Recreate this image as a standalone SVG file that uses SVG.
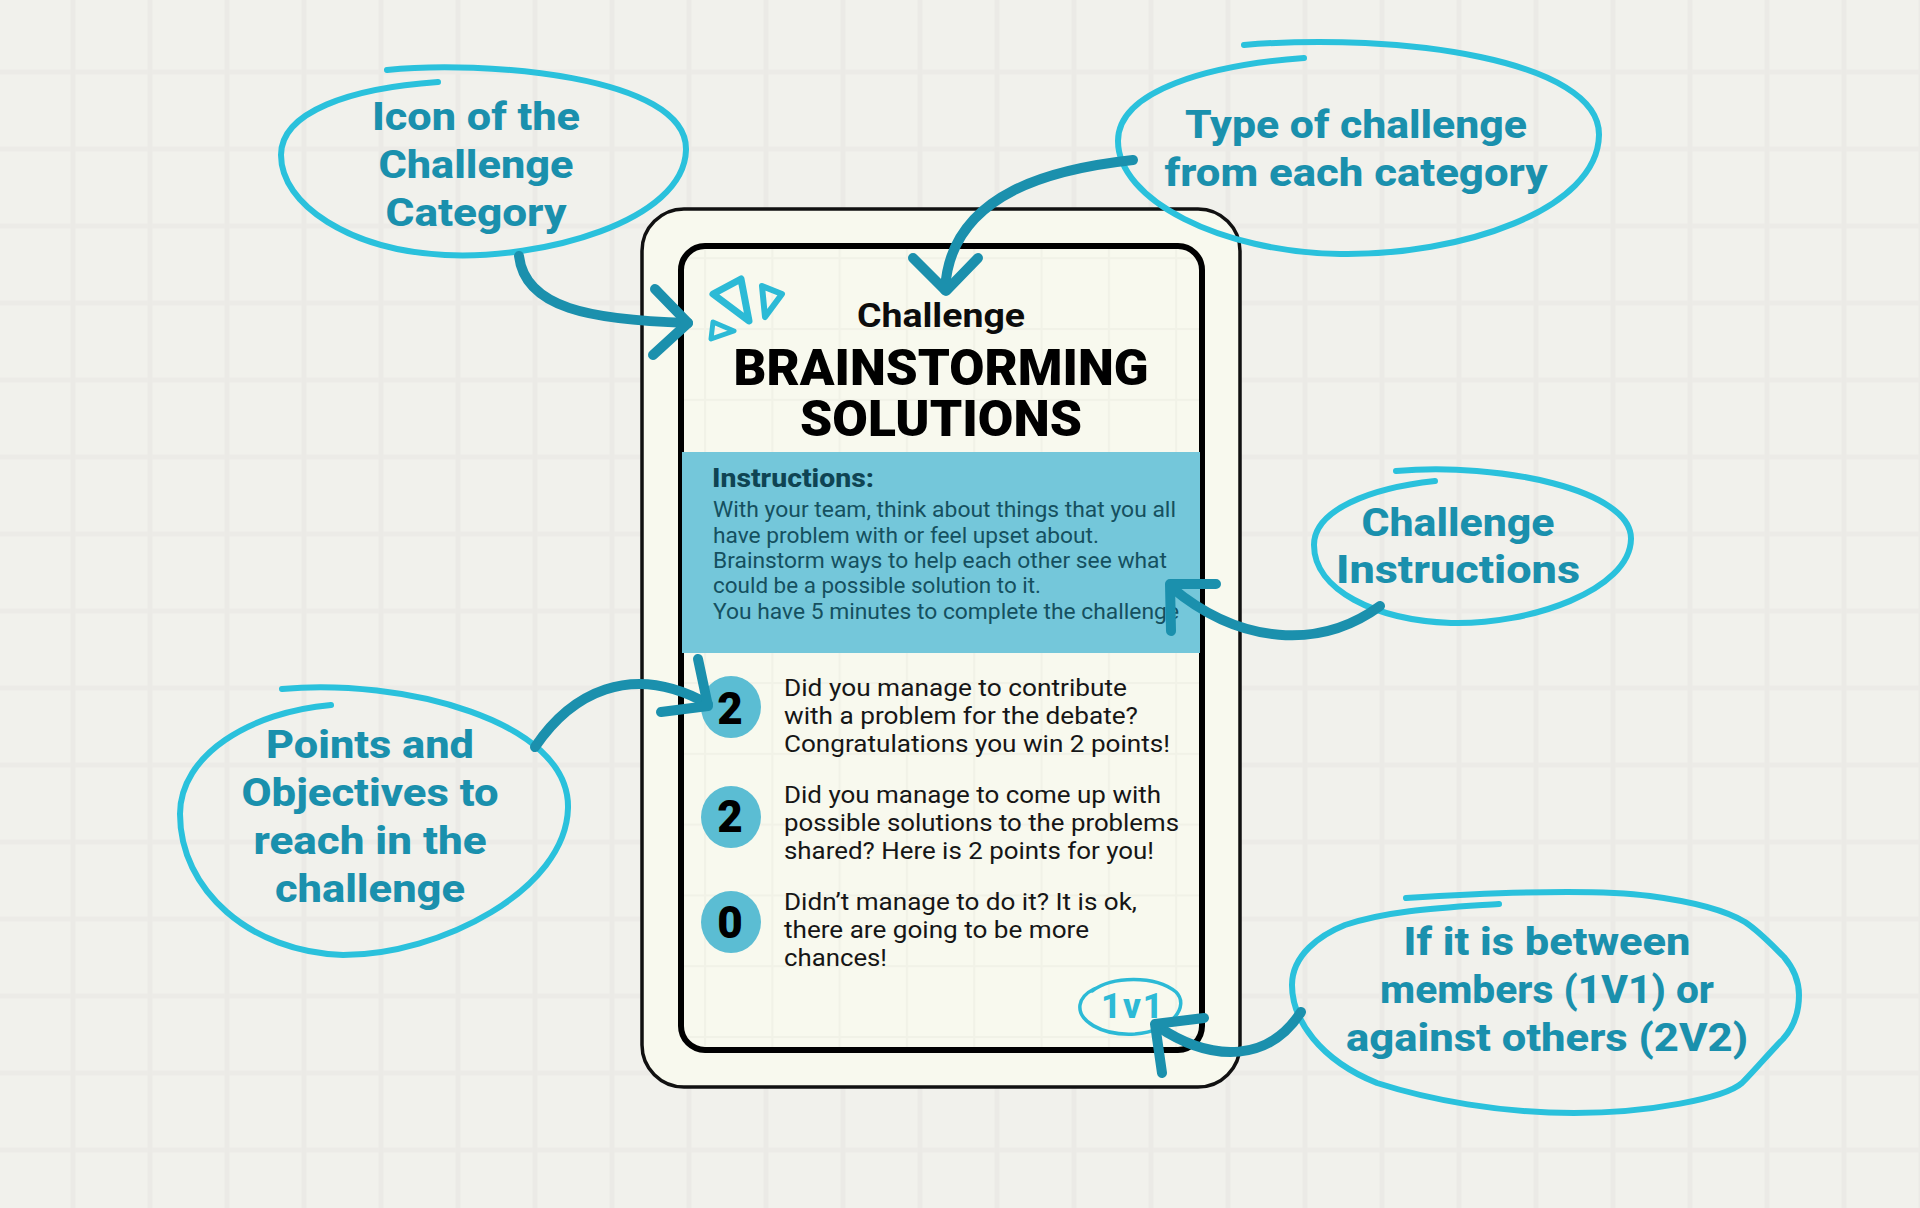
<svg xmlns="http://www.w3.org/2000/svg" width="1920" height="1208" viewBox="0 0 1920 1208">
<style>
text{font-family:"Roboto","Liberation Sans",sans-serif}
.bub{fill:none;stroke:#2ac1dc;stroke-width:6;stroke-linecap:round;stroke-linejoin:round}
.lab{font-size:39px;font-weight:800;fill:#1a90ad;text-anchor:middle}
.arr{fill:none;stroke:#1b90ad;stroke-width:10;stroke-linecap:round;stroke-linejoin:round}
.body{font-size:24.5px;fill:#161616}
.ins{font-size:21.5px;fill:#15505f}
.num{font-size:44px;font-weight:900;fill:#000;text-anchor:middle}
.pt{fill:#5bbdd3}
.tri{fill:none;stroke:#2cbad6;stroke-linejoin:round}
</style>
<defs>
<pattern id="bg" patternUnits="userSpaceOnUse" x="70.5" y="69.5" width="77" height="77">
<rect width="77" height="77" fill="#f1f1ec"/>
<rect width="77" height="5" fill="#ecebe7"/>
<rect width="5" height="77" fill="#ebeae6"/>
</pattern>
<pattern id="cardgrid" patternUnits="userSpaceOnUse" x="704" y="328" width="67.3" height="70.8">
<rect width="67.3" height="70.8" fill="#f8f9ee"/>
<rect x="0" y="0" width="67.3" height="2" fill="#f1f2e7"/>
<rect x="0" y="0" width="2" height="70.8" fill="#f1f2e7"/>
</pattern>
</defs>
<g id="background"><rect width="1920" height="1208" fill="url(#bg)"/></g>
<g id="card">
<rect x="642" y="209" width="598" height="878" rx="42" fill="#f8f9ee" stroke="#111" stroke-width="3.5"/>
<rect x="681" y="246" width="521" height="804" rx="24" fill="url(#cardgrid)" stroke="#000" stroke-width="6"/>
<rect x="682" y="452" width="518" height="201" fill="#74c7da"/>
<g id="category-icon">
<polygon class="tri" stroke-width="7" points="713,294 741,279 749,321"/>
<polygon class="tri" stroke-width="6" points="762,286 782,294 765,317"/>
<polygon class="tri" stroke-width="5" points="713,322 734,331 711,339"/>
</g>
<text x="941" y="327" text-anchor="middle" font-size="33" font-weight="700" fill="#0c0c0c" textLength="168" lengthAdjust="spacingAndGlyphs">Challenge</text>
<text x="941" y="385" text-anchor="middle" font-size="50" font-weight="900" fill="#000" textLength="415" lengthAdjust="spacingAndGlyphs">BRAINSTORMING</text>
<text x="941" y="436" text-anchor="middle" font-size="50" font-weight="900" fill="#000" textLength="282" lengthAdjust="spacingAndGlyphs">SOLUTIONS</text>
<text x="712" y="487" font-size="25" font-weight="800" fill="#0f4453" textLength="162" lengthAdjust="spacingAndGlyphs">Instructions:</text>
<text class="ins" x="713" y="517" textLength="463" lengthAdjust="spacingAndGlyphs">With your team, think about things that you all</text>
<text class="ins" x="713" y="543" textLength="386" lengthAdjust="spacingAndGlyphs">have problem with or feel upset about.</text>
<text class="ins" x="713" y="568" textLength="454" lengthAdjust="spacingAndGlyphs">Brainstorm ways to help each other see what</text>
<text class="ins" x="713" y="593" textLength="328" lengthAdjust="spacingAndGlyphs">could be a possible solution to it.</text>
<text class="ins" x="713" y="619" textLength="466" lengthAdjust="spacingAndGlyphs">You have 5 minutes to complete the challenge</text>
<g id="points-1"><ellipse class="pt" cx="731" cy="707" rx="30" ry="31"/><text class="num" x="730" y="724">2</text>
<text class="body" x="784" y="696" textLength="343" lengthAdjust="spacingAndGlyphs">Did you manage to contribute</text>
<text class="body" x="784" y="724" textLength="354" lengthAdjust="spacingAndGlyphs">with a problem for the debate?</text>
<text class="body" x="784" y="752" textLength="386" lengthAdjust="spacingAndGlyphs">Congratulations you win 2 points!</text></g>
<g id="points-2"><ellipse class="pt" cx="731" cy="817" rx="30" ry="31"/><text class="num" x="730" y="832">2</text>
<text class="body" x="784" y="803" textLength="377" lengthAdjust="spacingAndGlyphs">Did you manage to come up with</text>
<text class="body" x="784" y="831" textLength="395" lengthAdjust="spacingAndGlyphs">possible solutions to the problems</text>
<text class="body" x="784" y="859" textLength="370" lengthAdjust="spacingAndGlyphs">shared? Here is 2 points for you!</text></g>
<g id="points-3"><ellipse class="pt" cx="731" cy="922" rx="30" ry="31"/><text class="num" x="730" y="938">0</text>
<text class="body" x="784" y="910" textLength="353" lengthAdjust="spacingAndGlyphs">Didn’t manage to do it? It is ok,</text>
<text class="body" x="784" y="938" textLength="305" lengthAdjust="spacingAndGlyphs">there are going to be more</text>
<text class="body" x="784" y="966" textLength="103" lengthAdjust="spacingAndGlyphs">chances!</text></g>
<g id="mode-badge"><path d="M1092 991 C1112 976 1155 975 1176 992 C1190 1006 1172 1031 1135 1034 C1100 1036 1078 1020 1080 1005 C1081 998 1086 993 1094 989" fill="none" stroke="#2cbad6" stroke-width="3.5" stroke-linecap="round"/>
<text x="1132" y="1018" text-anchor="middle" font-size="35" font-weight="800" fill="#2cbad6" textLength="62" lengthAdjust="spacing">1v1</text></g>
</g>
<g id="note-icon"><path class="bub" d="M387 70 C480 60 688 75 686 150 C684 222 540 260 445 255 C350 250 281 205 281 155 C281 112 350 88 438 82"/>
<text class="lab" x="476" y="130" textLength="208" lengthAdjust="spacingAndGlyphs">Icon of the</text>
<text class="lab" x="476" y="178" textLength="195" lengthAdjust="spacingAndGlyphs">Challenge</text>
<text class="lab" x="476" y="226" textLength="181" lengthAdjust="spacingAndGlyphs">Category</text></g>
<g id="note-type"><path class="bub" d="M1244 45 C1400 32 1600 60 1599 135 C1598 210 1460 256 1340 254 C1220 252 1118 200 1118 141 C1118 90 1210 65 1304 58"/>
<text class="lab" x="1356" y="138" textLength="342" lengthAdjust="spacingAndGlyphs">Type of challenge</text>
<text class="lab" x="1356" y="186" textLength="383" lengthAdjust="spacingAndGlyphs">from each category</text></g>
<g id="note-instructions"><path class="bub" d="M1396 471 C1500 462 1632 490 1631 539 C1630 590 1530 625 1451 623 C1375 620 1314 590 1314 545 C1314 510 1370 488 1435 481"/>
<text class="lab" x="1458" y="536" textLength="193" lengthAdjust="spacingAndGlyphs">Challenge</text>
<text class="lab" x="1458" y="583" textLength="244" lengthAdjust="spacingAndGlyphs">Instructions</text></g>
<g id="note-points"><path class="bub" d="M282 689 C400 678 570 720 568 808 C566 890 440 955 343 955 C250 952 180 890 180 814 C180 755 250 712 331 705"/>
<text class="lab" x="370" y="758" textLength="208" lengthAdjust="spacingAndGlyphs">Points and</text>
<text class="lab" x="370" y="806" textLength="257" lengthAdjust="spacingAndGlyphs">Objectives to</text>
<text class="lab" x="370" y="854" textLength="233" lengthAdjust="spacingAndGlyphs">reach in the</text>
<text class="lab" x="370" y="902" textLength="190" lengthAdjust="spacingAndGlyphs">challenge</text></g>
<g id="note-mode"><path class="bub" d="M1406 898 C1470 894 1590 888 1650 896 C1695 902 1725 910 1745 922 C1760 932 1772 945 1784 957 C1795 970 1799 982 1799 995 C1799 1012 1793 1028 1783 1039 C1770 1052 1755 1070 1742 1083 C1725 1098 1650 1113 1574 1113 C1500 1113 1430 1100 1377 1083 C1320 1060 1292 1020 1292 985 C1292 955 1320 935 1345 925 C1390 910 1440 908 1499 904"/>
<text class="lab" x="1547" y="955" textLength="287" lengthAdjust="spacingAndGlyphs">If it is between</text>
<text class="lab" x="1547" y="1003" textLength="334" lengthAdjust="spacingAndGlyphs">members (1V1) or</text>
<text class="lab" x="1547" y="1051" textLength="402" lengthAdjust="spacingAndGlyphs">against others (2V2)</text></g>
<g id="connectors">
<path class="arr" d="M519 256 C525 308 590 320 688 323"/><polyline class="arr" points="655,289 688,323 653,355"/>
<path class="arr" d="M1133 160 C1060 168 950 190 945 290"/><polyline class="arr" points="913,258 946,291 978,258"/>
<path class="arr" d="M1380 606 C1320 650 1240 645 1171 587"/><polyline class="arr" points="1216,584 1170,584 1171,631"/>
<path class="arr" d="M535 747 C570 695 630 660 708 704"/><polyline class="arr" points="698,659 708,706 661,712"/>
<path class="arr" d="M1301 1012 C1270 1060 1215 1065 1157 1026"/><polyline class="arr" points="1204,1018 1155,1024 1162,1073"/>
</g>
</svg>
